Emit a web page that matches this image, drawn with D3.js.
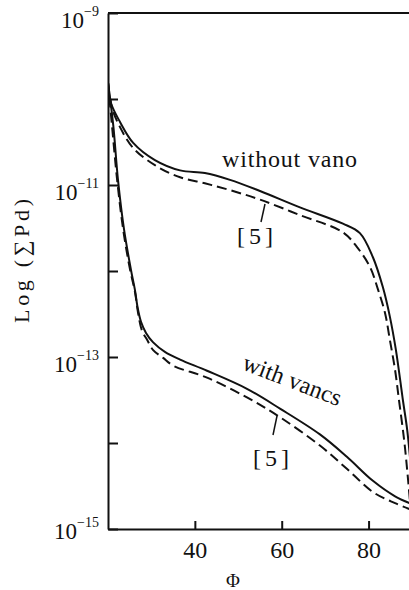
<!DOCTYPE html>
<html>
<head>
<meta charset="utf-8">
<script src="https://cdn.jsdelivr.net/npm/d3@7/dist/d3.min.js"></script>
<style>
  html, body { margin: 0; padding: 0; background: #fff; }
  svg { display: block; }
  text { font-family: "Liberation Serif", "DejaVu Serif", serif; fill: #111; }
</style>
</head>
<body>
<svg id="chart" width="409" height="590"></svg>
<script>
// Angle phi (degrees) and log10 of the summed probability
const withoutVanesPhi = [20.0, 20.7, 22.8, 25.8, 30.8, 36.6, 42.3, 48.1, 55.0, 64.2, 74.1, 78.0, 81.0, 83.3, 84.9, 86.3, 87.9, 88.9, 89.8];
const withoutVanesLog = [-9.81, -10.05, -10.27, -10.51, -10.71, -10.83, -10.86, -10.94, -11.07, -11.26, -11.45, -11.56, -11.84, -12.19, -12.53, -12.92, -13.50, -13.85, -14.31];

const withoutVanesRefPhi = [20.0, 20.9, 22.8, 25.8, 30.8, 36.6, 42.3, 48.1, 55.0, 64.2, 74.1, 77.3, 80.3, 82.2, 83.8, 84.9, 86.1, 87.0, 88.2, 89.1, 89.8];
const withoutVanesRefLog = [-9.81, -10.10, -10.33, -10.57, -10.77, -10.91, -10.98, -11.06, -11.17, -11.35, -11.55, -11.72, -11.95, -12.22, -12.49, -12.80, -13.15, -13.50, -13.97, -14.43, -14.84];

const withVanesPhi = [20.0, 21.2, 22.3, 23.7, 25.3, 26.2, 26.8, 27.6, 28.75, 30.4, 33.1, 36.6, 42.8, 52.0, 59.6, 68.8, 75.0, 81.0, 86.1, 90.0];
const withVanesLog = [-9.81, -10.30, -10.94, -11.52, -11.99, -12.22, -12.42, -12.59, -12.72, -12.83, -12.94, -13.03, -13.16, -13.37, -13.60, -13.90, -14.16, -14.44, -14.62, -14.71];

const withVanesRefPhi = [20.0, 20.9, 22.1, 23.5, 25.1, 26.2, 26.9, 27.8, 29.0, 30.4, 32.7, 35.0, 42.8, 52.0, 59.6, 68.8, 75.0, 81.0, 86.1, 90.0];
const withVanesRefLog = [-9.81, -10.30, -10.94, -11.52, -11.99, -12.24, -12.48, -12.69, -12.80, -12.92, -13.01, -13.10, -13.24, -13.47, -13.70, -14.03, -14.30, -14.57, -14.70, -14.78];

const xTickValues = [40, 60, 80];
const yTickExponents = [-9, -10, -11, -12, -13, -14, -15];
const yLabelExponents = [-9, -11, -13, -15];

const svg = d3.select("#chart");
const plotLeft = 108, plotRight = 412, plotTop = 13, plotBottom = 529;

const x = d3.scaleLinear().domain([20, 90]).range([plotLeft, plotRight]);
const y = d3.scaleLog().domain([1e-15, 1e-9]).range([plotBottom, plotTop]);

const toPoints = (phi, lg) => phi.map((p, i) => [p, Math.pow(10, lg[i])]);

const line = d3.line()
  .x(d => x(d[0]))
  .y(d => y(d[1]))
  .curve(d3.curveCatmullRom.alpha(0.5));

// Frame top edge
svg.append("line")
  .attr("x1", plotLeft).attr("x2", plotRight)
  .attr("y1", plotTop).attr("y2", plotTop)
  .attr("stroke", "#111").attr("stroke-width", 2);

// Left axis: inward decade ticks, labels drawn as powers of ten
const yAxis = d3.axisLeft(y)
  .tickValues(yTickExponents.map(e => Math.pow(10, e)))
  .tickSizeInner(-10)
  .tickSizeOuter(0)
  .tickFormat("");

const gy = svg.append("g")
  .attr("transform", `translate(${plotLeft},0)`)
  .call(yAxis);
gy.select(".domain").attr("stroke", "#111").attr("stroke-width", 2);
gy.selectAll(".tick line").attr("stroke", "#111").attr("stroke-width", 2);

gy.selectAll(".tick").each(function(d) {
  const e = Math.round(Math.log10(d));
  if (!yLabelExponents.includes(e)) return;
  const t = d3.select(this).append("text")
    .attr("x", -9)
    .attr("y", e === -15 ? 9 : 14)
    .attr("text-anchor", "end")
    .attr("fill", "#111")
    .style("font-family", "'Liberation Serif', serif");
  t.append("tspan").attr("font-size", 23).text("10");
  t.append("tspan").attr("font-size", 14).attr("dy", -12).text("\u2212" + (-e));
});

// Bottom axis
const xAxis = d3.axisBottom(x)
  .tickValues(xTickValues)
  .tickSizeInner(-8)
  .tickSizeOuter(0)
  .tickPadding(12);

const gx = svg.append("g")
  .attr("transform", `translate(0,${plotBottom})`)
  .call(xAxis);
gx.select(".domain").attr("stroke", "#111").attr("stroke-width", 2);
gx.selectAll(".tick line").attr("stroke", "#111").attr("stroke-width", 2);
gx.selectAll(".tick text")
  .attr("font-size", 24)
  .attr("fill", "#111")
  .style("font-family", "'Liberation Serif', serif");

// Axis titles
svg.append("text")
  .attr("x", 233).attr("y", 587)
  .attr("text-anchor", "middle")
  .attr("font-size", 19)
  .text("\u03A6");

svg.append("text")
  .attr("transform", "translate(29,261) rotate(-90)")
  .attr("text-anchor", "middle")
  .attr("font-size", 22)
  .attr("textLength", 124)
  .attr("lengthAdjust", "spacing")
  .text("Log (\u2211Pd)");

// Curves
const series = [
  { pts: toPoints(withoutVanesPhi, withoutVanesLog), dash: null },
  { pts: toPoints(withoutVanesRefPhi, withoutVanesRefLog), dash: "10,5" },
  { pts: toPoints(withVanesPhi, withVanesLog), dash: null },
  { pts: toPoints(withVanesRefPhi, withVanesRefLog), dash: "10,5" }
];

const plot = svg.append("g");
plot.append("clipPath").attr("id", "plotClip")
  .append("rect").attr("x", plotLeft).attr("y", plotTop)
  .attr("width", plotRight - plotLeft).attr("height", plotBottom - plotTop);

plot.selectAll("path.curve")
  .data(series)
  .join("path")
  .attr("class", "curve")
  .attr("clip-path", "url(#plotClip)")
  .attr("d", d => line(d.pts))
  .attr("fill", "none")
  .attr("stroke", "#111")
  .attr("stroke-width", 2)
  .attr("stroke-dasharray", d => d.dash);

// Annotations
svg.append("text")
  .attr("x", 222).attr("y", 167)
  .attr("font-size", 24)
  .attr("textLength", 135)
  .attr("lengthAdjust", "spacing")
  .text("without vano");

svg.append("line")
  .attr("x1", 265).attr("y1", 204).attr("x2", 261).attr("y2", 222)
  .attr("stroke", "#111").attr("stroke-width", 1.5);
svg.append("text")
  .attr("x", 255).attr("y", 244)
  .attr("text-anchor", "middle")
  .attr("font-size", 24)
  .attr("textLength", 36)
  .attr("lengthAdjust", "spacing")
  .text("[5]");

svg.append("text")
  .attr("transform", "translate(241,369) rotate(21)")
  .attr("font-size", 24)
  .attr("textLength", 104)
  .attr("lengthAdjust", "spacing")
  .text("with vancs");

svg.append("line")
  .attr("x1", 277).attr("y1", 416).attr("x2", 273).attr("y2", 435)
  .attr("stroke", "#111").attr("stroke-width", 1.5);
svg.append("text")
  .attr("x", 271).attr("y", 466)
  .attr("text-anchor", "middle")
  .attr("font-size", 24)
  .attr("textLength", 36)
  .attr("lengthAdjust", "spacing")
  .text("[5]");
</script>
</body>
</html>
